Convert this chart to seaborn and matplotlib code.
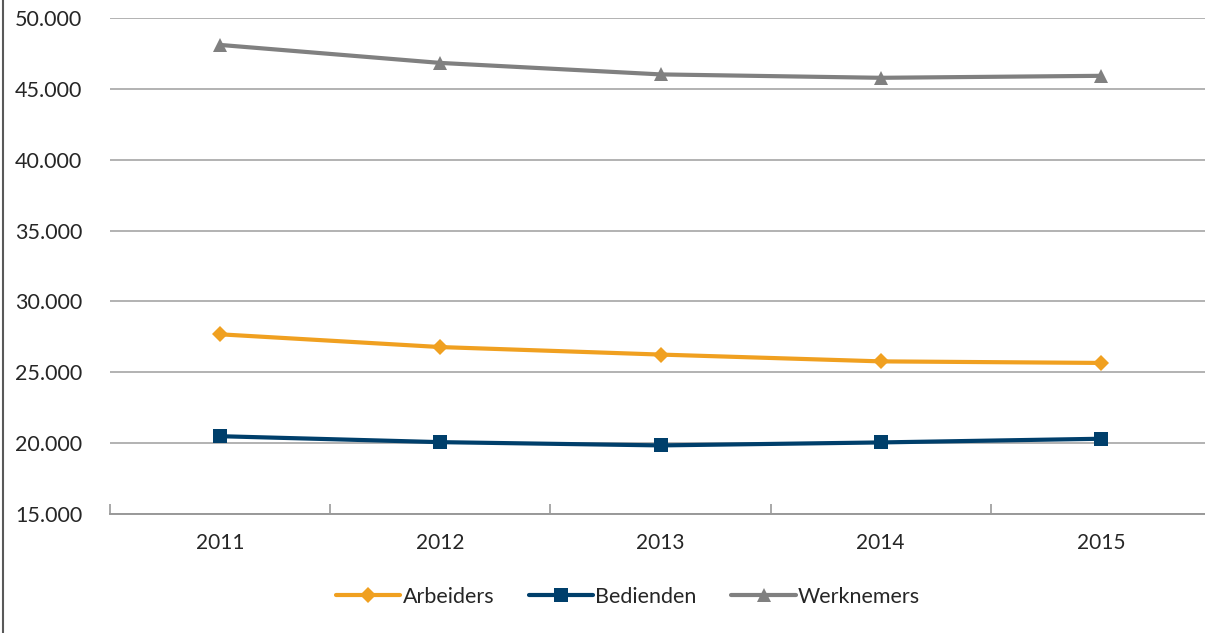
import pandas as pd
import numpy as np
import matplotlib.pyplot as plt
from matplotlib.lines import Line2D
from matplotlib.ticker import FuncFormatter
import seaborn as sns

# data
years = [2011, 2012, 2013, 2014, 2015]
arbeiders = [27680, 26780, 26250, 25770, 25660]
bedienden = [20490, 20070, 19840, 20050, 20310]
werknemers = [48100, 46830, 46020, 45780, 45920]
series_names = ['Arbeiders', 'Bedienden', 'Werknemers']

COLORS = {'Arbeiders': '#F0A020', 'Bedienden': '#003F6B', 'Werknemers': '#808080'}
MARKERS = {'Arbeiders': 'D', 'Bedienden': 's', 'Werknemers': '^'}

df = pd.DataFrame({
    'jaar': years * 3,
    'waarde': arbeiders + bedienden + werknemers,
    'reeks': [n for n in series_names for _ in years],
})

sns.set_style('white')
plt.rcParams['font.family'] = ['Lato', 'DejaVu Sans']

fig = plt.figure(figsize=(12.05, 6.33), dpi=100)
ax = fig.add_axes([110 / 1205, 1 - 514 / 633, 1101 / 1205, (514 - 18) / 633])

sns.lineplot(data=df, x='jaar', y='waarde', hue='reeks', style='reeks',
             palette=COLORS, markers=MARKERS, dashes=False, ax=ax,
             linewidth=3, markersize=10, markeredgewidth=0, legend=False)
# diamonds look a bit big at the same size
for line in ax.get_lines():
    if line.get_marker() == 'D':
        line.set_markersize(8.5)

ax.set_xlim(2010.5, 2015.5)
ax.set_ylim(15000, 50000)
ax.set_yticks(np.arange(15000, 50001, 5000))
ax.yaxis.set_major_formatter(FuncFormatter(lambda v, p: f'{int(v):,}'.replace(',', '.')))
ax.set_xticks(years)
ax.set_xticks(np.arange(2010.5, 2015.0, 1.0), minor=True)
ax.tick_params(axis='x', which='both', bottom=True)
ax.tick_params(axis='x', which='major', length=0, pad=14, labelsize=15)
ax.tick_params(axis='x', which='minor', length=7, direction='in', color='#999999', width=1.2)
ax.tick_params(axis='y', length=0, pad=20, labelsize=15.5)
ax.set_xlabel('')
ax.set_ylabel('')

ax.grid(axis='y', color='#A6A6A6', linewidth=1.2)
ax.set_axisbelow(True)
for side in ['left', 'right', 'top']:
    ax.spines[side].set_visible(False)
ax.spines['bottom'].set_color('#999999')
ax.spines['bottom'].set_linewidth(1.4)

handles = [Line2D([], [], color=COLORS[n], marker=MARKERS[n], lw=3,
                  markersize=8.5 if n == 'Arbeiders' else 10, markeredgewidth=0)
           for n in series_names]
fig.legend(handles, series_names, loc='center', bbox_to_anchor=(628 / 1205, 1 - 597 / 633),
           ncol=3, frameon=False, fontsize=15.5, handlelength=3.0, handletextpad=0.1,
           columnspacing=1.6)

# outer frame line on the left edge
fig.add_artist(Line2D([3 / 1205, 3 / 1205], [0, 1], color='#595959', lw=1.5))

fig.savefig('out.png', dpi=100, facecolor='white')
